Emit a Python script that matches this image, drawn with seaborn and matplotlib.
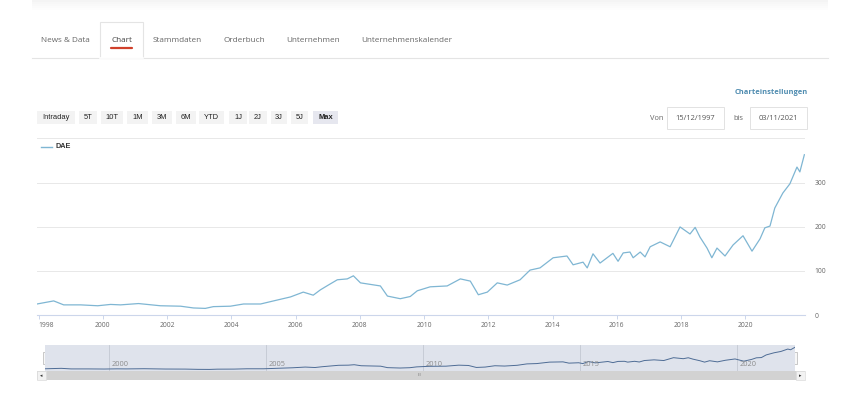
import numpy as np
import pandas as pd
import seaborn as sns
import matplotlib.pyplot as plt
from matplotlib.patches import Rectangle

# DAE price history (decimal year, price)
years = [1997.95, 1998.47, 1998.78, 1999.31, 1999.84, 2000.24, 2000.55, 2001.11,
         2001.79, 2002.42, 2002.82, 2003.19, 2003.44, 2003.97, 2004.38, 2004.91,
         2005.43, 2005.84, 2006.24, 2006.55, 2006.77, 2007.02, 2007.30, 2007.61,
         2007.80, 2008.02, 2008.64, 2008.86, 2009.26, 2009.57, 2009.79, 2010.19,
         2010.72, 2011.13, 2011.44, 2011.69, 2011.97, 2012.28, 2012.59, 2012.99,
         2013.30, 2013.61, 2014.02, 2014.45, 2014.64, 2014.95, 2015.08, 2015.26,
         2015.48, 2015.88, 2016.04, 2016.20, 2016.41, 2016.51, 2016.73, 2016.88,
         2017.04, 2017.35, 2017.66, 2017.97, 2018.28, 2018.44, 2018.59, 2018.81,
         2018.96, 2019.12, 2019.37, 2019.62, 2019.93, 2020.21, 2020.46, 2020.61,
         2020.77, 2020.92, 2021.17, 2021.39, 2021.61, 2021.70, 2021.84]
prices = [25, 32, 23, 23, 21, 24, 23, 26,
          21, 20, 16, 15, 19, 20, 25, 25,
          34, 41, 52, 45, 57, 68, 80, 82,
          89, 73, 66, 43, 37, 42, 55, 64,
          66, 82, 77, 46, 52, 73, 68, 80,
          102, 107, 130, 134, 114, 120, 107, 139,
          118, 140, 122, 141, 143, 130, 143, 132,
          155, 166, 155, 200, 184, 199, 177, 152,
          130, 152, 134, 159, 180, 145, 173, 198,
          202, 243, 277, 298, 336, 325, 364]

tabs = ['News & Data', 'Chart', 'Stammdaten', 'Orderbuch', 'Unternehmen', 'Unternehmenskalender']
ranges = ['Intraday', '5T', '10T', '1M', '3M', '6M', 'YTD', '1J', '2J', '3J', '5J', 'Max']
x_ticks = list(range(1998, 2021, 2))
y_ticks = [0, 100, 200, 300]
nav_ticks = [2000, 2005, 2010, 2015, 2020]
date_from = '15/12/1997'
date_to = '03/11/2021'
series_name = 'DAE'

df = pd.DataFrame({'year': years, 'price': prices})

W, H = 860, 399
LINE = '#7fb6d3'

fig = plt.figure(figsize=(W / 100, H / 100), dpi=100)
fig.patch.set_facecolor('white')


def frac(x0, y0, x1, y1):
    return [x0 / W, 1 - y1 / H, (x1 - x0) / W, (y1 - y0) / H]


# page chrome in pixel coordinates
page = fig.add_axes([0, 0, 1, 1])
page.set_xlim(0, W)
page.set_ylim(H, 0)
page.axis('off')

# soft shadow of the card above
for i, a in enumerate([0.10, 0.07, 0.05, 0.03, 0.015]):
    page.add_patch(Rectangle((32, i * 2), 796, 2, color='#9a9a9a', alpha=a, lw=0))

# tab bar
page.plot([32, 828], [57.5, 57.5], color='#e4e4e4', lw=0.8)
page.add_patch(Rectangle((100, 22), 43, 36, facecolor='white', edgecolor='#e4e4e4', lw=0.8))
page.plot([100, 143], [57.5, 57.5], color='white', lw=1.2)
tab_x = [41, 111, 153, 223, 286, 361]
for t, x in zip(tabs, tab_x):
    page.text(x, 40, t, fontsize=5.9, family='Open Sans', va='center', ha='left',
              color='#444444' if t == 'Chart' else '#666666')
page.plot([111, 132], [48, 48], color='#d0402b', lw=1.6, solid_capstyle='round')

# range buttons
btn_x = [37, 79, 101, 127, 152, 176, 199, 229, 249, 271, 291, 313]
btn_w = [38, 18, 22, 21, 20, 20, 25, 18, 18, 16, 17, 25]
for lab, x, w in zip(ranges, btn_x, btn_w):
    active = lab == 'Max'
    page.add_patch(Rectangle((x, 111), w, 13, color='#e6e7ef' if active else '#f3f3f3', lw=0))
    page.text(x + w / 2, 117.5, lab, fontsize=5.4, family='Liberation Sans', ha='center',
              va='center', color='#222222', fontweight='bold' if active else 'normal')

# settings link and date range
page.text(808, 93, 'Charteinstellungen', fontsize=5.4, family='Open Sans', fontweight='bold',
          ha='right', va='center', color='#4f8cb0')
page.text(650, 118, 'Von', fontsize=5.4, family='Open Sans', ha='left', va='center', color='#666666')
page.add_patch(Rectangle((667, 107), 57, 22, facecolor='white', edgecolor='#e2e2e2', lw=0.7))
page.text(695.5, 118, date_from, fontsize=5.4, family='Open Sans', ha='center', va='center', color='#555555')
page.text(733, 118, 'bis', fontsize=5.4, family='Open Sans', ha='left', va='center', color='#666666')
page.add_patch(Rectangle((750, 107), 57, 22, facecolor='white', edgecolor='#e2e2e2', lw=0.7))
page.text(778.5, 118, date_to, fontsize=5.4, family='Open Sans', ha='center', va='center', color='#555555')

# legend
page.plot([41, 52], [147, 147], color=LINE, lw=1)
page.text(55, 147, series_name, fontsize=5.2, family='Liberation Sans', fontweight='bold',
          ha='left', va='center', color='#333333')

# main chart
ax = fig.add_axes(frac(37, 138, 805, 315))
ax.set_facecolor('none')
sns.lineplot(data=df, x='year', y='price', ax=ax, color=LINE, linewidth=0.9)
ax.set_xlim(1997.95, 2021.86)
ax.set_ylim(0, 402)
for v in [100, 200, 300, 402]:
    ax.axhline(v, color='#e8e8e8', lw=0.7, zorder=0)
for s in ['top', 'left', 'right']:
    ax.spines[s].set_visible(False)
ax.spines['bottom'].set_color('#ccd6eb')
ax.spines['bottom'].set_linewidth(0.8)
ax.set_xticks(x_ticks)
ax.set_xticklabels([str(y) for y in x_ticks])
ax.get_xticklabels()[0].set_horizontalalignment('left')
ax.tick_params(axis='x', length=3, width=0.7, color='#ccd6eb', pad=2,
               labelsize=4.9, labelcolor='#666666')
ax.yaxis.tick_right()
ax.set_yticks(y_ticks)
ax.tick_params(axis='y', length=0, pad=7, labelsize=4.9, labelcolor='#666666')
for lab in ax.get_xticklabels() + ax.get_yticklabels():
    lab.set_family('Open Sans')
ax.set_xlabel('')
ax.set_ylabel('')

# navigator scrollbar
page.add_patch(Rectangle((37, 371), 768, 9, color='#d2d2d2', lw=0))
page.add_patch(Rectangle((37, 371), 9, 9, facecolor='#f2f2f2', edgecolor='#dcdcdc', lw=0.5))
page.add_patch(Rectangle((796, 371), 9, 9, facecolor='#f2f2f2', edgecolor='#dcdcdc', lw=0.5))
page.text(41.5, 375.5, '◂', fontsize=3.5, ha='center', va='center', color='#333333')
page.text(800.5, 375.5, '▸', fontsize=3.5, ha='center', va='center', color='#333333')
page.text(420, 375.5, 'III', fontsize=3.2, ha='center', va='center', color='#777777')

nav = fig.add_axes(frac(45, 345, 795, 371))
nav.set_facecolor('#dfe3ec')
sns.lineplot(data=df, x='year', y='price', ax=nav, color='#4e6c95', linewidth=0.7)
nav.set_xlim(1997.95, 2021.84)
nav.set_ylim(-10, 400)
for t in nav_ticks:
    nav.axvline(t, color='#c3c8d2', lw=0.6, zorder=0)
    nav.text(t + 0.08, 0.1, str(t), transform=nav.get_xaxis_transform(), fontsize=5.3,
             family='Open Sans', color='#8c8c8c', ha='left', va='bottom')
for s in nav.spines.values():
    s.set_visible(False)
nav.set_xticks([])
nav.set_yticks([])
nav.set_xlabel('')
nav.set_ylabel('')

# navigator handles
for hx in [43, 792]:
    page.add_patch(Rectangle((hx, 352), 5, 12, facecolor='#f7f7f7', edgecolor='#b5b5b5', lw=0.5, zorder=5))

fig.savefig('out.png', dpi=100, facecolor='white')
